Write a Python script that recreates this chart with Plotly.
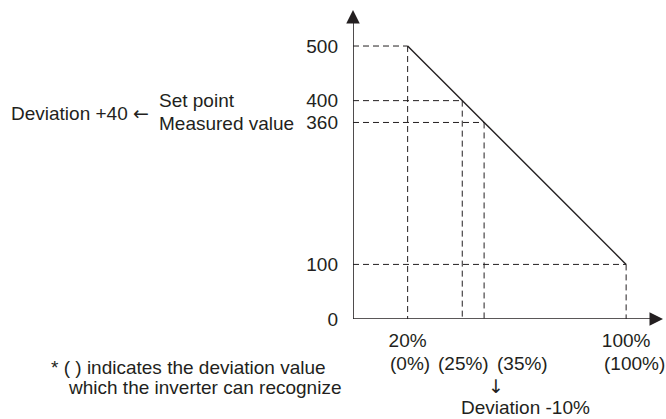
import plotly.graph_objects as go

# ---- data ----
y_tick_vals = [0, 100, 360, 400, 500]
y_tick_text = ["0", "100", "360", "400", "500"]
x_tick_vals = [20, 100]
x_tick_text = ["20%", "100%"]
line_x = [20, 100]
line_y = [500, 100]
guide_x = [20, 40, 48, 100]
guide_y = [500, 400, 360, 100]
deviation_labels = ["(0%)", "(25%)", "(35%)", "(100%)"]

INK = "#231f20"
FONT = dict(family="Liberation Sans, Arial, sans-serif", size=19, color=INK)

W, H = 666, 419
L, R, T, B = 353, 3, 10, 100
PW, PH = W - L - R, H - T - B
X_MAX = 113.5
Y_MAX = 566

def px(x):
    return (x - L) / PW

def py(y):
    return (H - B - y) / PH

fig = go.Figure()

# dashed guides
gx, gy = [], []
for x, y in zip(guide_x, guide_y):
    gx += [0, x, None, x, x, None]
    gy += [y, y, None, y, 0, None]
fig.add_trace(go.Scatter(x=gx, y=gy, mode="lines",
                         line=dict(color=INK, width=1, dash="6px,4px"),
                         hoverinfo="skip", showlegend=False))

# main line
fig.add_trace(go.Scatter(x=line_x, y=line_y, mode="lines",
                         line=dict(color=INK, width=1.4),
                         hoverinfo="skip", showlegend=False))

# axis lines
fig.add_trace(go.Scatter(x=[0, X_MAX - 3, None, 0, 0], y=[0, 0, None, 0, Y_MAX - 15], mode="lines",
                         line=dict(color=INK, width=1.6),
                         hoverinfo="skip", showlegend=False, cliponaxis=False))

annotations = []
# arrow heads
annotations.append(dict(x=X_MAX, y=0, ax=-14, ay=0, xref="x", yref="y",
                        showarrow=True, arrowhead=2, arrowsize=1.8, arrowwidth=1.5,
                        arrowcolor=INK, text=""))
annotations.append(dict(x=0, y=Y_MAX, ax=0, ay=14, xref="x", yref="y",
                        showarrow=True, arrowhead=2, arrowsize=1.8, arrowwidth=1.5,
                        arrowcolor=INK, text=""))

ARROW = '<span style="font-family:DejaVu Sans">{}</span>'

def text(t, x, y, anchor="center", yanchor="middle"):
    annotations.append(dict(text=t, x=px(x), y=py(y), xref="paper", yref="paper",
                            xanchor=anchor, yanchor=yanchor, showarrow=False,
                            borderpad=0, font=FONT))

text("Set point", 158, 100, "left")
text("Measured value", 158, 124, "left")
text("Deviation +40 " + ARROW.format("←"), 10, 113, "left")
for lab, cx in zip(deviation_labels, [410, 463, 522, 634]):
    text(lab, cx, 363)
text(ARROW.format("↓"), 496, 386)
text("Deviation -10%", 525, 419, yanchor="bottom")
text("* ( ) indicates the deviation value", 50, 367, "left")
text("which the inverter can recognize", 67, 387, "left")

fig.update_layout(
    width=W, height=H,
    margin=dict(l=L, r=R, t=T, b=B),
    paper_bgcolor="white", plot_bgcolor="white",
    font=FONT,
    showlegend=False,
    annotations=annotations,
    xaxis=dict(range=[0, X_MAX], showgrid=False, zeroline=False, showline=False,
               tickmode="array", tickvals=x_tick_vals, ticktext=x_tick_text,
               ticks="", ticklabelstandoff=8, tickfont=FONT),
    yaxis=dict(range=[0, Y_MAX], showgrid=False, zeroline=False, showline=False,
               tickmode="array", tickvals=y_tick_vals, ticktext=y_tick_text,
               ticks="", ticklabelstandoff=14, tickfont=FONT),
)

fig.write_html("out.html", config={"displayModeBar": False},
               post_script="document.body.style.margin='0';")
